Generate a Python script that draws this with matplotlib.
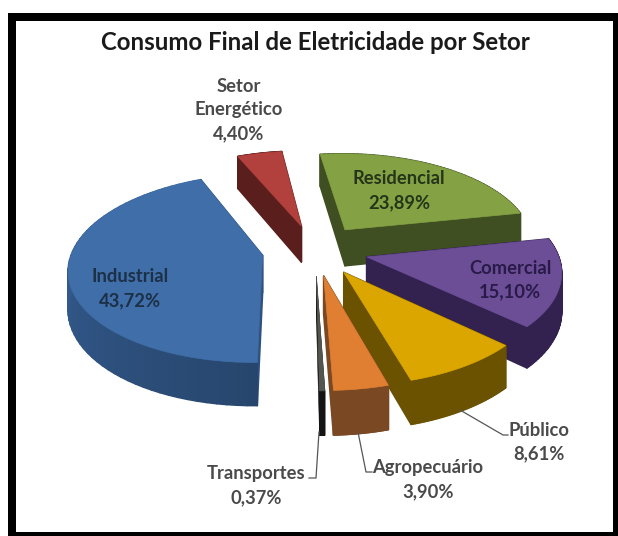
import matplotlib
matplotlib.use('Agg')
import matplotlib.pyplot as plt
import numpy as np
from matplotlib.patches import Polygon, Rectangle

# Consumo final de eletricidade (%)
setores = ['Residencial', 'Comercial', 'Público', 'Agropecuário', 'Transportes', 'Industrial', 'Setor Energético']
valores = [23.89, 15.10, 8.61, 3.90, 0.37, 43.72, 4.40]

cores_topo = ['#84A244', '#6B4E96', '#DCA600', '#E07F32', '#55554F', '#3F6EA8', '#B2403D']
cores_lado = ['#3F4F22', '#33214F', '#6B5200', '#7A4822', '#141414', '#2E5280', '#5A1F1C']

titulo = 'Consumo Final de Eletricidade por Setor'

# parametros do pie 3D
cx, cy = 315, 250
raio = 190
esmagamento = 0.48
persp = 0.134
altura = 37
explode = 0.28
inicio = -7.5


def projeta(x, y, z=0.0):
    # x, y no plano do pie (unidades de raio), z para baixo em pixels
    w = 1 / (1 + persp * y)
    return cx + x * raio * w, cy - y * raio * esmagamento * w + z * w


def escurece(cor, f):
    c = np.array(matplotlib.colors.to_rgb(cor))
    return tuple(np.clip(c * f, 0, 1))


plt.rcParams['font.family'] = ['Lato', 'DejaVu Sans']
fig = plt.figure(figsize=(6.18, 5.36), dpi=100)
ax = fig.add_axes([0, 0, 1, 1])
ax.set_xlim(0, 618)
ax.set_ylim(536, 0)
ax.axis('off')

# moldura preta
ax.add_patch(Rectangle((8, 13), 610, 523, fc='black', ec='none'))
ax.add_patch(Rectangle((16, 21), 597, 511, fc='white', ec='none'))

# angulos de cada fatia, sentido horario a partir do norte
fim = inicio + np.cumsum(valores) * 360 / sum(valores)
ini = np.r_[inicio, fim[:-1]]

# ordem de desenho: do fundo para a frente
ordem = [6, 0, 1, 2, 3, 4, 5]
for i in ordem:
    t = np.radians(np.linspace(ini[i], fim[i], 60))
    meio = np.radians((ini[i] + fim[i]) / 2)
    ox, oy = explode * np.sin(meio), explode * np.cos(meio)
    xs = np.r_[ox, ox + np.sin(t)]
    ys = np.r_[oy, oy + np.cos(t)]
    topo = np.array(projeta(xs, ys)).T
    base = np.array(projeta(xs, ys, altura)).T

    # laterais
    n = len(xs)
    largura = 0.4 if i == 4 else 1.2
    for k in range(n):
        j = (k + 1) % n
        quad = [topo[k], topo[j], base[j], base[k]]
        cor = cores_lado[i]
        if i == 5 and 0 < k < n - 1:
            # lateral do industrial clareia para a esquerda
            cor = escurece(cor, 0.85 + 0.45 * (k / n))
        ax.add_patch(Polygon(quad, closed=True, fc=cor, ec=cor, lw=largura, joinstyle='round'))
    ax.add_patch(Polygon(topo, closed=True, fc=cores_topo[i], ec=cores_topo[i], lw=0.5))

ax.text(315, 42, titulo, ha='center', va='center', fontsize=17.3, fontweight='bold', color='#1a1a1a')


def rotulo(i):
    return f'{valores[i]:.2f}'.replace('.', ',') + '%'


txt = dict(ha='center', va='center', fontsize=13.2, fontweight='bold', linespacing=1.5)
ax.text(130, 289, f'{setores[5]}\n{rotulo(5)}', color='#1c3048', **txt)
ax.text(399, 191, f'{setores[0]}\n{rotulo(0)}', color='#25351a', **txt)
ax.text(510, 280, f'{setores[1]}\n{rotulo(1)}', color='#2a1a48', **txt)
ax.text(239, 110, f'Setor\nEnergético\n{rotulo(6)}', color='#4a4a4a', **txt)
ax.text(539, 442, f'{setores[2]}\n{rotulo(2)}', color='#4a4a4a', **txt)
ax.text(428, 480, f'{setores[3]}\n{rotulo(3)}', color='#4a4a4a', **txt)
ax.text(256, 486, f'{setores[4]}\n{rotulo(4)}', color='#4a4a4a', **txt)

# linhas de chamada
ax.plot([460, 503, 508], [410, 435, 435], color='#555555', lw=0.9)
ax.plot([358, 366, 372], [432, 472, 472], color='#555555', lw=0.9)
ax.plot([319, 316, 309], [432, 478, 478], color='#555555', lw=0.9)

fig.savefig('out.png', dpi=100)
